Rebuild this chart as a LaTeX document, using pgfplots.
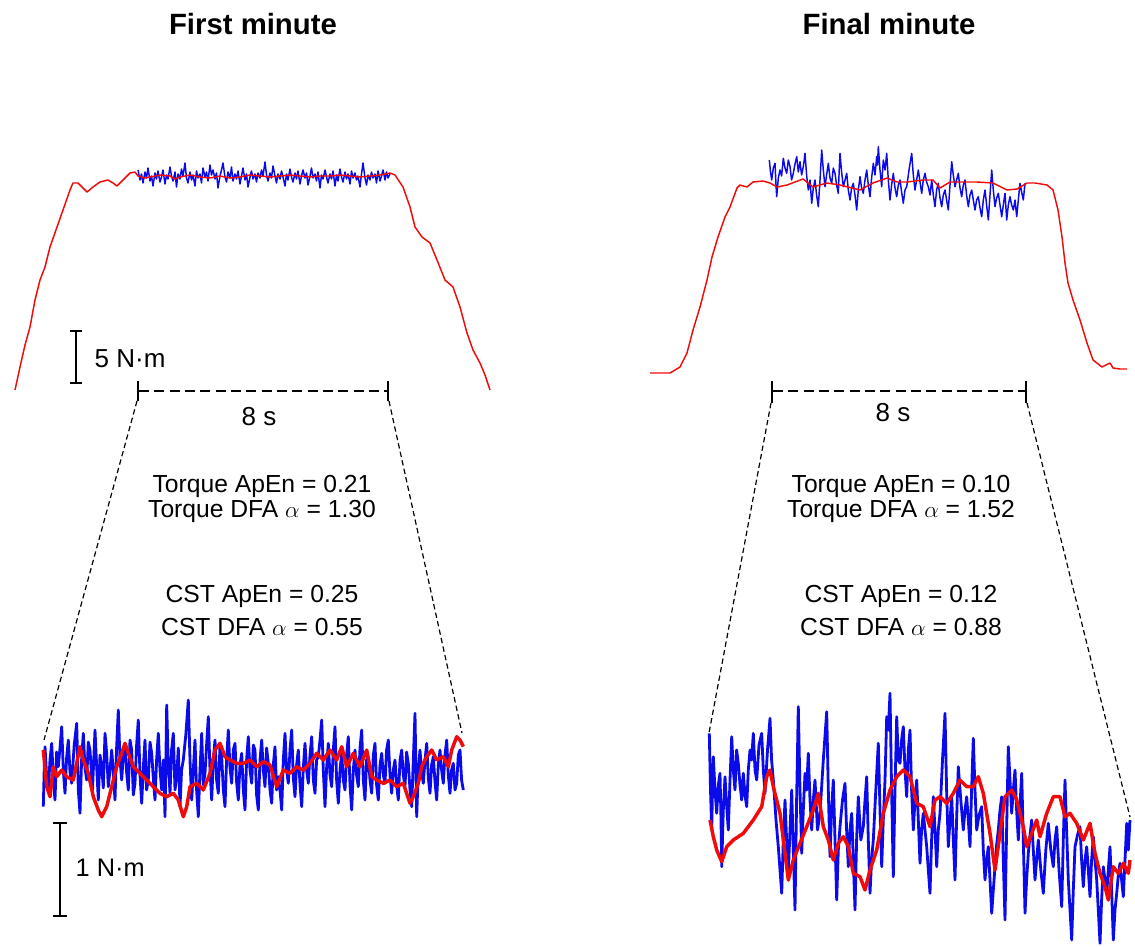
\documentclass[border=0pt]{standalone}
\usepackage{pgfplots}
\pgfplotsset{compat=1.18}
\usepackage{fontspec}
\setmainfont{Liberation Sans}
\definecolor{tred}{RGB}{240,10,10}
\definecolor{tblue}{RGB}{10,10,235}
\begin{document}
\begin{tikzpicture}
\begin{axis}[at={(0,0)}, anchor=south west, scale only axis, width=851.25pt, height=709.5pt,
  xmin=0, xmax=1135, ymin=0, ymax=946, y dir=reverse, hide axis, clip=false,
  every axis plot/.append style={line join=round}]
\addplot[draw=none] coordinates {(0,0) (1135,946)};
% ---------- top left ----------
\addplot[tblue, line width=1.1pt] coordinates {
(138,170)(140,180)(141.5,174)(143,183)(145,172)(146.5,178)(148,168)(150,181)(151.5,176)(153,186)(155,173)
(156.5,179)(158,171)(160,182)(161.5,177)(163,170)(165,184)(166.5,175)(168,179)(170,167)(171.5,176)(173,181)
(175,172)(176.5,187)(178,174)(180,179)(181.5,169)(183,176)(185,163)(186.5,178)(188,183)(190,172)(191.5,180)
(193,175)(195,186)(196.5,171)(198,178)(200,174)(201.5,183)(203,168)(205,177)(206.5,172)(208,181)(210,165)
(211.5,175)(213,170)(215,179)(216.5,173)(218,188)(220,176)(221.5,170)(223,163)(225,177)(226.5,182)(228,172)
(230,178)(231.5,167)(233,181)(235,174)(236.5,179)(238,171)(240,184)(241.5,176)(243,168)(245,180)(246.5,174)
(248,187)(250,177)(251.5,171)(253,179)(255,174)(256.5,182)(258,173)(260,178)(261.5,170)(263,176)(265,162)
(266.5,175)(268,181)(270,173)(271.5,178)(273,166)(275,176)(276.5,183)(278,174)(280,179)(281.5,171)(283,177)
(285,186)(286.5,174)(288,180)(290,169)(291.5,177)(293,182)(295,173)(296.5,179)(298,171)(300,184)(301.5,176)
(303,170)(305,178)(306.5,173)(308,185)(310,176)(311.5,168)(313,178)(315,174)(316.5,181)(318,172)(320,188)
(321.5,175)(323,179)(325,170)(326.5,177)(328,183)(330,174)(331.5,179)(333,171)(335,186)(336.5,175)(338,181)
(340,169)(341.5,177)(343,182)(345,172)(346.5,179)(348,174)(350,184)(351.5,171)(353,178)(355,173)(356.5,180)
(358,176)(360,187)(361.5,174)(363,163)(365,178)(366.5,185)(368,175)(370,180)(371.5,172)(373,178)(375,174)
(376.5,183)(378,171)(380,181)(381.5,176)(383,170)(385,180)(386.5,172)(388,178)(390,174)};
\addplot[tred, line width=1.1pt] coordinates {
(15,390)(20,367)(25,345)(30,327)(35,300)(40,280)(45,267)(50,247)(57,227)(63,210)(70,190)(73,183)
(78,183)(83,188)(87,192)(93,187)(100,182)(108,180)(113,183)(117,186)(123,180)(130,173)(135,172)
(138,176)(145,178)(150,177)(160,175)(170,176)(175,179)(180,177)(190,175)(200,177)(210,178)(220,176)
(230,178)(240,177)(250,175)(260,176)(270,177)(280,176)(290,175)(300,176)(310,177)(320,176)(330,176)
(340,175)(350,176)(360,177)(370,176)(380,175)(390,173)(395,175)(403,187)(410,207)(415,227)(422,237)
(430,243)(437,260)(445,280)(453,287)(460,307)(467,333)(473,350)(480,363)(485,375)(490,390)};
% ---------- top right ----------
\addplot[tblue, line width=1.1pt] coordinates {
(769.3,160)(770.5,172)(771.7,180)(773.3,168)(775,163.3)(776,185)(776.7,196.7)(778.3,178)(780,170)(781.6,176)
(783.3,158.3)(785,168)(786.7,173.3)(788.3,160)(790,166.7)(791.6,180)(793.3,173.3)(795,164)(796.7,156.7)(798.3,172)
(800,161.7)(801.6,175)(803.3,166.7)(804.2,160)(805,153.3)(806.6,175)(808.3,190)(810,180)(811.7,203.3)(813.3,188)
(815,180)(816.6,195)(818.3,206.7)(820,180)(821.7,150)(823.3,170)(825,186.7)(826.6,175)(828.3,163.3)(830,178)
(831.7,183.3)(833.3,168)(835,173.3)(836.6,185)(838.3,193.3)(839.2,170)(840,153.3)(841.6,172)(843.3,186.7)(845,180)
(846.7,173.3)(848.3,190)(850,200)(851.6,188)(853.3,183.3)(855,195)(856.7,210)(858.3,190)(860,176.7)(861.6,188)
(863.3,193.3)(865,180)(866.7,170)(868.3,185)(870,196.7)(871.6,178)(873.3,163.3)(875,175)(876.7,156.7)(877.5,165)
(878.3,146.7)(880,170)(881.7,186.7)(882.5,172)(883.3,160)(885,170)(886.7,153.3)(888.3,180)(890,200)(891.6,185)
(893.3,173.3)(895,188)(896.7,196.7)(898.3,185)(900,180)(901.6,192)(903.3,203.3)(905,190)(906.7,186.7)(909,170)
(911.7,153.3)(913.3,175)(915,190)(916.6,180)(918.3,170)(920,182)(921.7,193.3)(923.3,180)(925,173.3)(926.6,182)
(928.3,186.7)(930,195)(931.7,180)(933.3,195)(935,206.7)(936.6,190)(938.3,183.3)(940,198)(941.7,206.7)(943.3,195)
(945,190)(946.6,200)(948.3,210)(950,185)(951.7,161.7)(953.3,175)(955,186.7)(956.6,180)(958.3,173.3)(960,188)
(961.7,196.7)(963.3,185)(965,180)(966.6,195)(968.3,206.7)(970,195)(971.7,190)(973.3,200)(975,210)(976.6,200)
(978.3,196.7)(980,208)(981.7,216.7)(983.3,200)(985,190)(986.6,205)(988.3,220)(990,195)(991.7,170)(993.3,190)
(995,206.7)(996.6,198)(998.3,193.3)(1000,205)(1001.7,216.7)(1003.3,205)(1005,193.3)(1006.7,220)(1008.3,205)
(1010,196.7)(1011.6,205)(1013.3,210)(1015,200)(1016.7,216.7)(1018.3,200)(1020,183.3)(1021.6,192)(1023.3,200)(1025,183.3)};
\addplot[tred, line width=1.1pt] coordinates {
(650,373)(670,373)(680,367)(687,353)(693,330)(700,307)(707,280)(712,257)(718,237)(725,217)(730,207)
(737,188)(740,185)(747,187)(753,182)(763,181)(770,183)(777,187)(787,185)(803,179)(813,187)(827,183)
(840,185)(860,190)(873,183)(887,178)(897,182)(907,182)(923,180)(933,180)(940,188)(950,182)(963,182)
(977,182)(993,183)(1007,190)(1017,189)(1027,183)(1035,183)(1047,185)(1053,190)(1058,210)(1062,237)
(1065,263)(1068,283)(1073,300)(1080,320)(1087,343)(1093,360)(1102,367)(1110,363)(1113,368)(1120,369)(1127,369)};
% ---------- bottom left ----------
\addplot[tblue, line width=2.1pt] coordinates {
(43.3,806.7)(44.2,770)(45,746.7)(46.6,775)(48.3,790)(50,760)(51.7,743.3)(53.3,778)(55,800)(56.6,752)(58.3,766.7)
(60,748)(61.7,726.7)(63.3,770)(65,793.3)(66.6,758)(68.3,740)(70,772)(71.7,783.3)(74.2,745)(76.7,723.3)(78.3,790)
(80,813.3)(81.6,760)(83.3,733.3)(85,768)(86.7,780)(88.3,742)(90,750)(92.5,790)(95,730)(96.6,765)(98.3,800)
(100,755)(101.7,766.7)(103.3,788)(105,733.3)(106.6,752)(108.3,786.7)(110,770)(111.7,750)(113.3,772)(115,800)
(116.6,748)(118.3,710)(120,760)(121.7,780)(123.3,755)(125,743.3)(126.6,772)(128.3,790)(130,740)(131.7,750)
(133.3,795)(135,783.3)(136.6,745)(138.3,720)(140,775)(141.7,803.3)(143.3,768)(145,740)(146.6,790)(148.3,780)
(150,742)(151.7,753.3)(153.3,778)(155,800)(156.6,760)(158.3,733.3)(160,770)(161.7,790)(163.3,760)(165,816.7)
(166.7,705)(168.3,765)(170,793.3)(171.6,750)(173.3,733.3)(175,790)(176.7,776.7)(178.3,748)(180,806.7)(181.6,770)
(183.3,760)(185.8,735)(188.3,700)(190,760)(191.7,800)(193.3,770)(195,740)(196.6,790)(198.3,816.7)(200,770)
(201.7,733.3)(203.3,785)(205,773.3)(206.6,745)(208.3,716.7)(210,770)(211.7,800)(213.3,760)(215,740)(216.6,780)
(218.3,793.3)(220,745)(221.7,756.7)(223.3,790)(225,806.7)(226.6,760)(228.3,730)(230,768)(231.7,783.3)(233.3,750)
(235,743.3)(236.6,782)(238.3,800)(240,765)(241.7,753.3)(243.3,790)(245,810)(246.6,760)(248.3,736.7)(250,770)
(251.7,783.3)(253.3,745)(255,750)(256.6,795)(258.3,810)(260,760)(261.7,740)(263.3,770)(265,786.7)(266.6,748)
(268.3,763.3)(270,790)(271.7,803.3)(273.3,765)(275,746.7)(276.6,790)(278.3,776.7)(280,790)(281.7,810)(283.3,760)
(285,733.3)(286.6,770)(288.3,783.3)(290,750)(291.7,730)(293.3,778)(295,796.7)(296.6,765)(298.3,750)(300,785)
(301.7,806.7)(303.3,768)(305,743.3)(306.6,770)(308.3,783.3)(310,755)(311.7,736.7)(313.3,780)(315,793.3)(316.6,760)
(318.3,756.7)(320,740)(321.7,720)(323.3,770)(325,806.7)(326.6,768)(328.3,743.3)(330,775)(331.7,786.7)(333.3,750)
(335,726.7)(336.6,780)(338.3,803.3)(340,770)(341.7,753.3)(343.3,780)(345,790)(346.6,755)(348.3,736.7)(350,785)
(351.7,810)(353.3,770)(355,750)(356.6,775)(358.3,786.7)(360,748)(361.7,730)(363.3,780)(365,800)(366.6,760)
(368.3,756.7)(370,780)(371.7,793.3)(373.3,755)(375,743.3)(376.6,785)(378.3,800)(380,765)(381.7,753.3)(383.3,775)
(385,783.3)(386.6,750)(388.3,740)(390,775)(391.7,793.3)(393.3,770)(395,760)(396.6,785)(398.3,800)(400,760)
(401.7,750)(403.3,775)(405,786.7)(406.6,752)(408.3,763.3)(410,790)(411.7,806.7)(413.3,760)(415,713.3)(416.7,816.7)
(418.3,770)(420,750)(421.6,772)(423.3,783.3)(425,760)(426.7,743.3)(428.3,778)(430,793.3)(431.6,765)(433.3,756.7)
(435,782)(436.7,800)(438.3,765)(440,750)(441.6,770)(443.3,783.3)(445,755)(446.7,740)(448.3,775)(450,793.3)
(451.6,770)(453.3,763.3)(455,790)(456.7,783.3)(458.3,755)(460,750)(461.6,780)(463.3,790)};
\addplot[tred, line width=2.6pt] coordinates {
(43.3,750)(46.7,786.7)(50,796.7)(53.3,766.7)(56.7,776.7)(61.7,770)(66.7,776.7)(73.3,780)(80,746.7)(83.3,760)
(88.3,773.3)(93.3,796.7)(98.3,810)(101.7,816.7)(106.7,806.7)(111.7,786.7)(116.7,766.7)(121.7,753.3)(125,743.3)
(128.3,753.3)(133.3,766.7)(140,773.3)(146.7,780)(153.3,786.7)(160,793.3)(166.7,796.7)(173.3,793.3)(178.3,800)
(183.3,816.7)(186.7,806.7)(190,786.7)(196.7,783.3)(203.3,790)(210,773.3)(215,750)(220,743.3)(225,756.7)(230,760)
(236.7,763.3)(243.3,763.3)(250,760)(256.7,766.7)(263.3,761.7)(270,765)(276.7,786.7)(283.3,770)(290,773.3)
(296.7,766.7)(303.3,770)(310,763.3)(316.7,753.3)(323.3,760)(330,750)(336.7,760)(341.7,746.7)(346.7,766.7)
(353.3,753.3)(360,766.7)(366.7,750)(371.7,776.7)(376.7,780)(383.3,783.3)(390,780)(396.7,786.7)(403.3,783.3)
(410,803.3)(413.3,796.7)(418.3,783.3)(421.7,766.7)(426.7,756.7)(431.7,750)(436.7,760)(443.3,756.7)(448.3,766.7)
(451.7,750)(456.7,736.7)(460,740)(463.3,746.7)};
% ---------- bottom right ----------
\addplot[tblue, line width=2.1pt] coordinates {
(709.3,733.3)(710.5,790)(711.7,830)(712.5,790)(713.3,756.7)(715,790)(716.7,813.3)(718.3,785)(720,773.3)(721,820)
(721.7,866.7)(723.3,810)(725,776.7)(726.6,805)(728.3,830)(730,780)(731.7,736.7)(733.3,770)(735,790)(736.6,750)
(738.3,763.3)(740,785)(741.7,800)(742.5,785)(743.3,773.3)(745,795)(746.7,806.7)(748.3,770)(750,750)(751.6,760)
(753.3,733.3)(755,770)(756.7,780)(759,745)(761.7,733.3)(763.3,770)(765,793.3)(767.5,750)(770,718.3)(771.6,760)
(773.3,780)(776,820)(778.3,846.7)(780,870)(781.7,893.3)(783.3,840)(785,800)(786.6,840)(788.3,873.3)(790,830)
(791.7,790)(793.3,850)(795,910)(796.6,800)(798.3,706.7)(800,790)(801.7,853.3)(803.3,810)(805,773.3)(806.6,790)
(808.3,753.3)(810,800)(811.7,830)(813.3,800)(815,780)(817.5,830)(820,813.3)(823.3,760)(826.7,711.7)(828.3,790)
(830,856.7)(831.6,810)(833.3,780)(835,840)(836.7,900)(838.3,850)(840,826.7)(842.5,800)(845,783.3)(846.6,830)
(848.3,866.7)(850,830)(851.7,813.3)(853.3,860)(855,910)(856.6,840)(858.3,796.7)(860.8,840)(863.3,826.7)(865,800)
(866.7,776.7)(868.3,840)(870,893.3)(871.6,860)(873.3,840)(875.8,790)(878.3,743.3)(880,810)(881.7,866.7)(883.3,820)
(885,780)(886.7,716.7)(888.3,730)(890,693.3)(891.6,790)(893.3,876.7)(895,790)(896.7,716.7)(898.3,760)(900,763.3)
(901.6,740)(903.3,726.7)(905,770)(906.7,796.7)(908.3,750)(910,730)(911.6,790)(913.3,830)(915,800)(916.7,780)
(918.3,820)(920,863.3)(921.6,830)(923.3,813.3)(925,830)(926.7,846.7)(928.3,870)(930,893.3)(931.6,840)(933.3,796.7)
(935,830)(936.7,866.7)(938.3,830)(940,813.3)(942.5,760)(945,713.3)(946.6,790)(948.3,846.7)(950,820)(951.7,796.7)
(953.3,840)(955,880)(956.6,820)(958.3,766.7)(960.8,800)(963.3,830)(965,810)(966.7,796.7)(968.3,820)(970,846.7)
(971.6,790)(973.3,738.3)(975,790)(976.7,830)(979,815)(981.7,806.7)(983.3,850)(985,880)(986.6,860)(988.3,846.7)
(990,880)(991.7,913.3)(993.3,890)(995,866.7)(996.6,845)(998.3,830)(1000,810)(1001.7,796.7)(1003.3,860)(1005,920)
(1006.6,830)(1008.3,746.7)(1010,780)(1011.7,813.3)(1013.3,790)(1015,770)(1016.6,810)(1018.3,840)(1020,805)
(1021.7,773.3)(1023.3,840)(1025,913.3)(1026.6,880)(1028.3,853.3)(1030,835)(1031.7,820)(1033.3,850)(1035,880)
(1036.6,860)(1038.3,840)(1040.8,870)(1043.3,893.3)(1045.8,850)(1048.3,823.3)(1050.8,850)(1053.3,866.7)(1055,840)
(1056.7,826.7)(1059,870)(1061.7,906.7)(1063.3,840)(1065,780)(1066.6,830)(1068.3,880)(1070,910)(1071.7,940)
(1073.3,890)(1075,846.7)(1077.5,835)(1080,826.7)(1081.6,860)(1083.3,886.7)(1085,860)(1086.7,846.7)(1088.3,870)
(1090,896.7)(1091.6,860)(1093.3,836.7)(1095,860)(1096.7,880)(1098.3,910)(1100,943.3)(1101.6,900)(1103.3,866.7)
(1105,880)(1106.7,893.3)(1108.3,870)(1110,846.7)(1111.6,890)(1113.3,940)(1115,910)(1116.7,893.3)(1118.3,875)
(1120,863.3)(1121.6,880)(1123.3,896.7)(1125,860)(1126.7,823.3)(1128.3,850)(1130,820)};
\addplot[tred, line width=2.6pt] coordinates {
(710,820)(713.3,836.7)(716.7,850)(721.7,861.7)(726.7,846.7)(733.3,840)(743.3,833.3)(753.3,820)(761.7,806.7)
(766.7,776.7)(770,770)(773.3,786.7)(780,813.3)(785,853.3)(788.3,880)(793.3,860)(800,843.3)(806.7,826.7)
(813.3,810)(818.3,793.3)(823.3,826.7)(828.3,840)(833.3,860)(838.3,843.3)(843.3,836.7)(848.3,846.7)(853.3,873.3)
(860,876.7)(865,890)(870,870)(876.7,850)(883.3,813.3)(890,790)(896.7,776.7)(903.3,770)(910,776.7)(916.7,803.3)
(923.3,806.7)(930,826.7)(935,800)(940,796.7)(946.7,803.3)(953.3,793.3)(960,780)(966.7,786.7)(973.3,786.7)
(978.3,776.7)(983.3,793.3)(990,833.3)(995,870)(1000,833.3)(1005,796.7)(1011.7,790)(1016.7,800)(1023.3,826.7)
(1026.7,846.7)(1031.7,833.3)(1036.7,820)(1040,836.7)(1046.7,813.3)(1053.3,796.7)(1060,796.7)(1065,816.7)
(1070,813.3)(1076.7,823.3)(1083.3,840)(1090,823.3)(1095,853.3)(1100,873.3)(1105,886.7)(1108.3,900)
(1113.3,866.7)(1118.3,873.3)(1123.3,863.3)(1128.3,873.3)(1130,860)};
% ---------- scale bars ----------
\addplot[black, line width=2pt] coordinates {(76,331)(76,383)};
\addplot[black, line width=2pt] coordinates {(70,331)(82,331)};
\addplot[black, line width=2pt] coordinates {(70,383)(82,383)};
\addplot[black, line width=2pt] coordinates {(60,823)(60,916)};
\addplot[black, line width=2pt] coordinates {(53,823)(67,823)};
\addplot[black, line width=2pt] coordinates {(53,916)(67,916)};
% ---------- 8 s bars ----------
\addplot[black, line width=2pt, dash pattern=on 7.5pt off 4pt] coordinates {(139,391)(388,391)};
\addplot[black, line width=2pt] coordinates {(138,381)(138,401)};
\addplot[black, line width=2pt] coordinates {(388,381)(388,401)};
\addplot[black, line width=2pt, dash pattern=on 7.5pt off 4pt] coordinates {(773,391)(1026,391)};
\addplot[black, line width=2pt] coordinates {(772,381)(772,403)};
\addplot[black, line width=2pt] coordinates {(1026,381)(1026,403)};
% ---------- zoom guide lines ----------
\addplot[black, line width=0.9pt, dash pattern=on 4pt off 2.5pt] coordinates {(137,401)(44,740)};
\addplot[black, line width=0.9pt, dash pattern=on 4pt off 2.5pt] coordinates {(389,401)(462,733)};
\addplot[black, line width=0.9pt, dash pattern=on 4pt off 2.5pt] coordinates {(771,403)(709,733)};
\addplot[black, line width=0.9pt, dash pattern=on 4pt off 2.5pt] coordinates {(1027,403)(1130,817)};
% ---------- text ----------
\node[anchor=center, font=\fontsize{22}{26}\selectfont\bfseries] at (axis cs:253,24) {First minute};
\node[anchor=center, font=\fontsize{22}{26}\selectfont\bfseries] at (axis cs:889,24) {Final minute};
\node[anchor=base west, font=\fontsize{19.5}{23}\selectfont] at (axis cs:90,367) {5 N·m};
\node[anchor=base west, font=\fontsize{19}{23}\selectfont] at (axis cs:71,876) {1 N·m};
\node[anchor=base, font=\fontsize{19.5}{23}\selectfont] at (axis cs:259,425) {8 s};
\node[anchor=base, font=\fontsize{19.5}{23}\selectfont] at (axis cs:893,421) {8 s};
\node[anchor=base, font=\fontsize{18.5}{22}\selectfont] at (axis cs:262,492) {Torque ApEn = 0.21};
\node[anchor=base, font=\fontsize{18.5}{22}\selectfont] at (axis cs:262,517) {Torque DFA $\alpha$ = 1.30};
\node[anchor=base, font=\fontsize{18.5}{22}\selectfont] at (axis cs:262,602) {CST ApEn = 0.25};
\node[anchor=base, font=\fontsize{18.5}{22}\selectfont] at (axis cs:262,635) {CST DFA $\alpha$ = 0.55};
\node[anchor=base, font=\fontsize{18.5}{22}\selectfont] at (axis cs:901,492) {Torque ApEn = 0.10};
\node[anchor=base, font=\fontsize{18.5}{22}\selectfont] at (axis cs:901,517) {Torque DFA $\alpha$ = 1.52};
\node[anchor=base, font=\fontsize{18.5}{22}\selectfont] at (axis cs:901,602) {CST ApEn = 0.12};
\node[anchor=base, font=\fontsize{18.5}{22}\selectfont] at (axis cs:901,635) {CST DFA $\alpha$ = 0.88};
\end{axis}
\pgfresetboundingbox
\path (current axis.south west) rectangle (current axis.north east);
\end{tikzpicture}
\end{document}
